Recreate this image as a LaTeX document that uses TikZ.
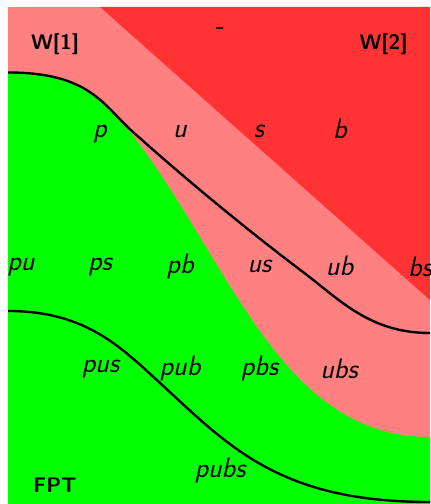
\documentclass[tikz,border=0pt]{standalone}
\begin{document}
\begin{tikzpicture}[x=0.025cm, y=-0.025cm,
    lbl/.style={anchor=base, inner sep=0pt, font=\fontsize{20}{24}\selectfont\sffamily\slshape},
    cls/.style={anchor=base, inner sep=0pt, font=\fontsize{15}{18}\selectfont\sffamily\bfseries},
    bound/.style={line width=1.7pt}]
    \useasboundingbox (0,0) rectangle (430,504);
    \clip (8,7) rectangle (430,504);
    % regions
    \fill[red!50] (8,7) rectangle (430,504);
    \fill[red!80] (100,7) -- (440,7) -- (440,309) -- cycle;
    \fill[green] (0,510) -- (0,72.5) -- (8,72.5) .. controls (90,72.5) and (103,105.2) .. (131,133)
        .. controls (231,263) and (280,437) .. (430,437) -- (440,437) -- (440,510) -- cycle;
    % boundaries
    \draw[bound] (0,72.5) -- (8,72.5) .. controls (90,72.5) and (103,105.2) .. (133,132)
        .. controls (190,183) and (250,232) .. (303,272)
        .. controls (340,300) and (370,333) .. (430,333) -- (440,333);
    \draw[bound] (0,311) -- (8,311) .. controls (85,311) and (120,346.2) .. (160,383)
        .. controls (230,447.4) and (280,502) .. (430,502) -- (440,502);
    % classes
    \node[cls] (W1) at (55,50) {W[1]};
    \node[cls] (W2) at (383.5,50) {W[2]};
    \node[cls] (FPT) at (55,492) {FPT};
    % region labels
    \node[lbl] (none) at (219,35) {-};
    \node[lbl] (p) at (100,138) {p};
    \node[lbl] (u) at (180,138) {u};
    \node[lbl] (s) at (259,138) {s};
    \node[lbl] (b) at (340,139) {b};
    \node[lbl] (pu) at (21,270) {pu};
    \node[lbl] (ps) at (100,270) {ps};
    \node[lbl] (pb) at (180,273) {pb};
    \node[lbl] (us) at (259.5,272) {us};
    \node[lbl] (ub) at (339.5,275) {ub};
    \node[lbl] (bs) at (420,276) {bs};
    \node[lbl] (pus) at (100.5,372) {pus};
    \node[lbl] (pub) at (180,375) {pub};
    \node[lbl] (pbs) at (259.5,375) {pbs};
    \node[lbl] (ubs) at (339,378) {ubs};
    \node[lbl] (pubs) at (220,477) {pubs};
\end{tikzpicture}
\end{document}
